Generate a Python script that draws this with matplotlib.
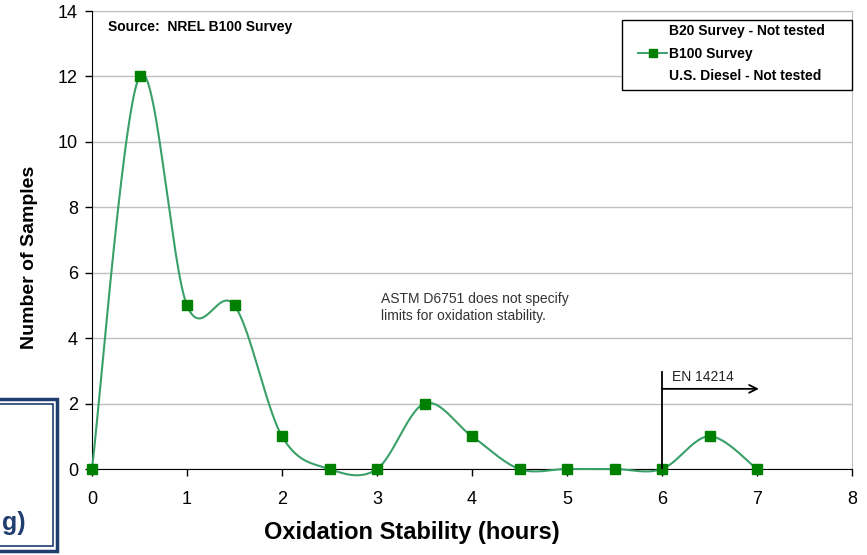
import numpy as np
import matplotlib
matplotlib.use("Agg")
import matplotlib.pyplot as plt
from matplotlib.lines import Line2D
from matplotlib.patches import Rectangle

plt.rcParams['font.family'] = ['Liberation Sans', 'DejaVu Sans']

# Data
hours = [0, 0.5, 1, 1.5, 2, 2.5, 3, 3.5, 4, 4.5, 5, 5.5, 6, 6.5, 7]
b100 = [0, 12, 5, 5, 1, 0, 0, 2, 1, 0, 0, 0, 0, 1, 0]
x_ticks = [0, 1, 2, 3, 4, 5, 6, 7, 8]
y_ticks = [0, 2, 4, 6, 8, 10, 12, 14]
legend_labels = ["B20 Survey - Not tested", "B100 Survey", "U.S. Diesel - Not tested"]

W, H = 867, 555


def fx(px):
    return px / W


def fy(py):
    return 1 - py / H


def smooth(xs, ys, n=30):
    xs = np.asarray(xs, float)
    ys = np.asarray(ys, float)
    px = np.concatenate([[xs[0]], xs, [xs[-1]]])
    py = np.concatenate([[ys[0]], ys, [ys[-1]]])
    ox, oy = [], []
    t = np.linspace(0, 1, n)
    for i in range(1, len(px) - 2):
        p0 = np.array([px[i], py[i]])
        p3 = np.array([px[i + 1], py[i + 1]])
        c1 = p0 + (np.array([px[i + 1], py[i + 1]]) - np.array([px[i - 1], py[i - 1]])) / 6
        c2 = p3 - (np.array([px[i + 2], py[i + 2]]) - np.array([px[i], py[i]])) / 6
        b = ((1 - t) ** 3)[:, None] * p0 + (3 * (1 - t) ** 2 * t)[:, None] * c1 + \
            (3 * (1 - t) * t ** 2)[:, None] * c2 + (t ** 3)[:, None] * p3
        ox.extend(b[:, 0]); oy.extend(b[:, 1])
    return ox, oy


fig = plt.figure(figsize=(W / 100, H / 100), dpi=100)
ax = fig.add_axes([fx(92), fy(469), fx(852 - 92), (469 - 11) / H])

ax.set_xlim(0, 8)
ax.set_ylim(0, 14)
ax.set_xticks(x_ticks)
ax.set_yticks(y_ticks)
ax.tick_params(axis='both', direction='out', length=5, width=1, labelsize=13)
ax.tick_params(axis='x', pad=11)
ax.tick_params(axis='y', pad=5)
ax.yaxis.grid(True, color='#c0c0c0', linewidth=1)
ax.set_axisbelow(True)
for s in ['top', 'right']:
    ax.spines[s].set_color('#c0c0c0')
for s in ['left', 'bottom']:
    ax.spines[s].set_color('black')
    ax.spines[s].set_zorder(3)

line_color = '#3aa06a'
marker_color = '#008000'
sx, sy = smooth(hours, b100)
ax.plot(sx, sy, color=line_color, linewidth=1.5, clip_on=False, zorder=4)
ax.plot(hours, b100, linestyle='none', marker='s', markersize=6.5, color=marker_color,
        clip_on=False, zorder=5)

fig.text(fx(412), fy(532), "Oxidation Stability (hours)", fontsize=17, fontweight='bold',
         ha='center', va='center')
fig.text(fx(30), fy(257), "Number of Samples", fontsize=14, fontweight='bold',
         ha='center', va='center', rotation=90)

ax.text(0.17, 13.5, "Source:  NREL B100 Survey", fontsize=10, fontweight='bold',
        va='center', ha='left')
ax.text(3.04, 5.4, "ASTM D6751 does not specify\nlimits for oxidation stability.",
        fontsize=10, color='#333333', va='top', ha='left', linespacing=1.2)

# EN 14214 marker
ax.plot([6, 6], [0, 2.97], color='black', linewidth=1.3, zorder=6)
ax.annotate("", xy=(7.02, 2.45), xytext=(6, 2.45),
            arrowprops=dict(arrowstyle='->', color='black', lw=1.3,
                            mutation_scale=14, shrinkA=0, shrinkB=0))
ax.text(6.1, 2.82, "EN 14214", fontsize=10, color='#222222', va='center', ha='left')

# Legend with manual frame
fig.patches.append(Rectangle((fx(622), fy(90)), fx(852 - 622), (90 - 20) / H,
                             transform=fig.transFigure, facecolor='white',
                             edgecolor='black', linewidth=1, zorder=8))
handles = [Line2D([], [], linestyle='none'),
           Line2D([], [], color=line_color, marker='s', markersize=6,
                  markerfacecolor=marker_color, markeredgecolor=marker_color, linewidth=1.4),
           Line2D([], [], linestyle='none')]
leg = fig.legend(handles, legend_labels, loc='upper left',
                 bbox_to_anchor=(fx(638), fy(24)), bbox_transform=fig.transFigure,
                 prop={'weight': 'bold', 'size': 10}, frameon=False,
                 handlelength=2.1, handletextpad=0.1, borderpad=0,
                 labelspacing=0.63, borderaxespad=0)
leg.set_zorder(9)

# Bottom-left box fragment
navy = '#1f3d6e'
fig.patches.append(Rectangle((fx(-5), fy(551)), fx(62), (551 - 399) / H,
                             transform=fig.transFigure, fill=False, edgecolor=navy,
                             linewidth=2.5))
fig.patches.append(Rectangle((fx(-5), fy(546)), fx(58), (546 - 404) / H,
                             transform=fig.transFigure, fill=False, edgecolor=navy,
                             linewidth=1.2))
fig.text(fx(26), fy(523), "g)", fontsize=18, fontweight='bold', color=navy,
         ha='right', va='center')

fig.savefig("out.png", dpi=100)
